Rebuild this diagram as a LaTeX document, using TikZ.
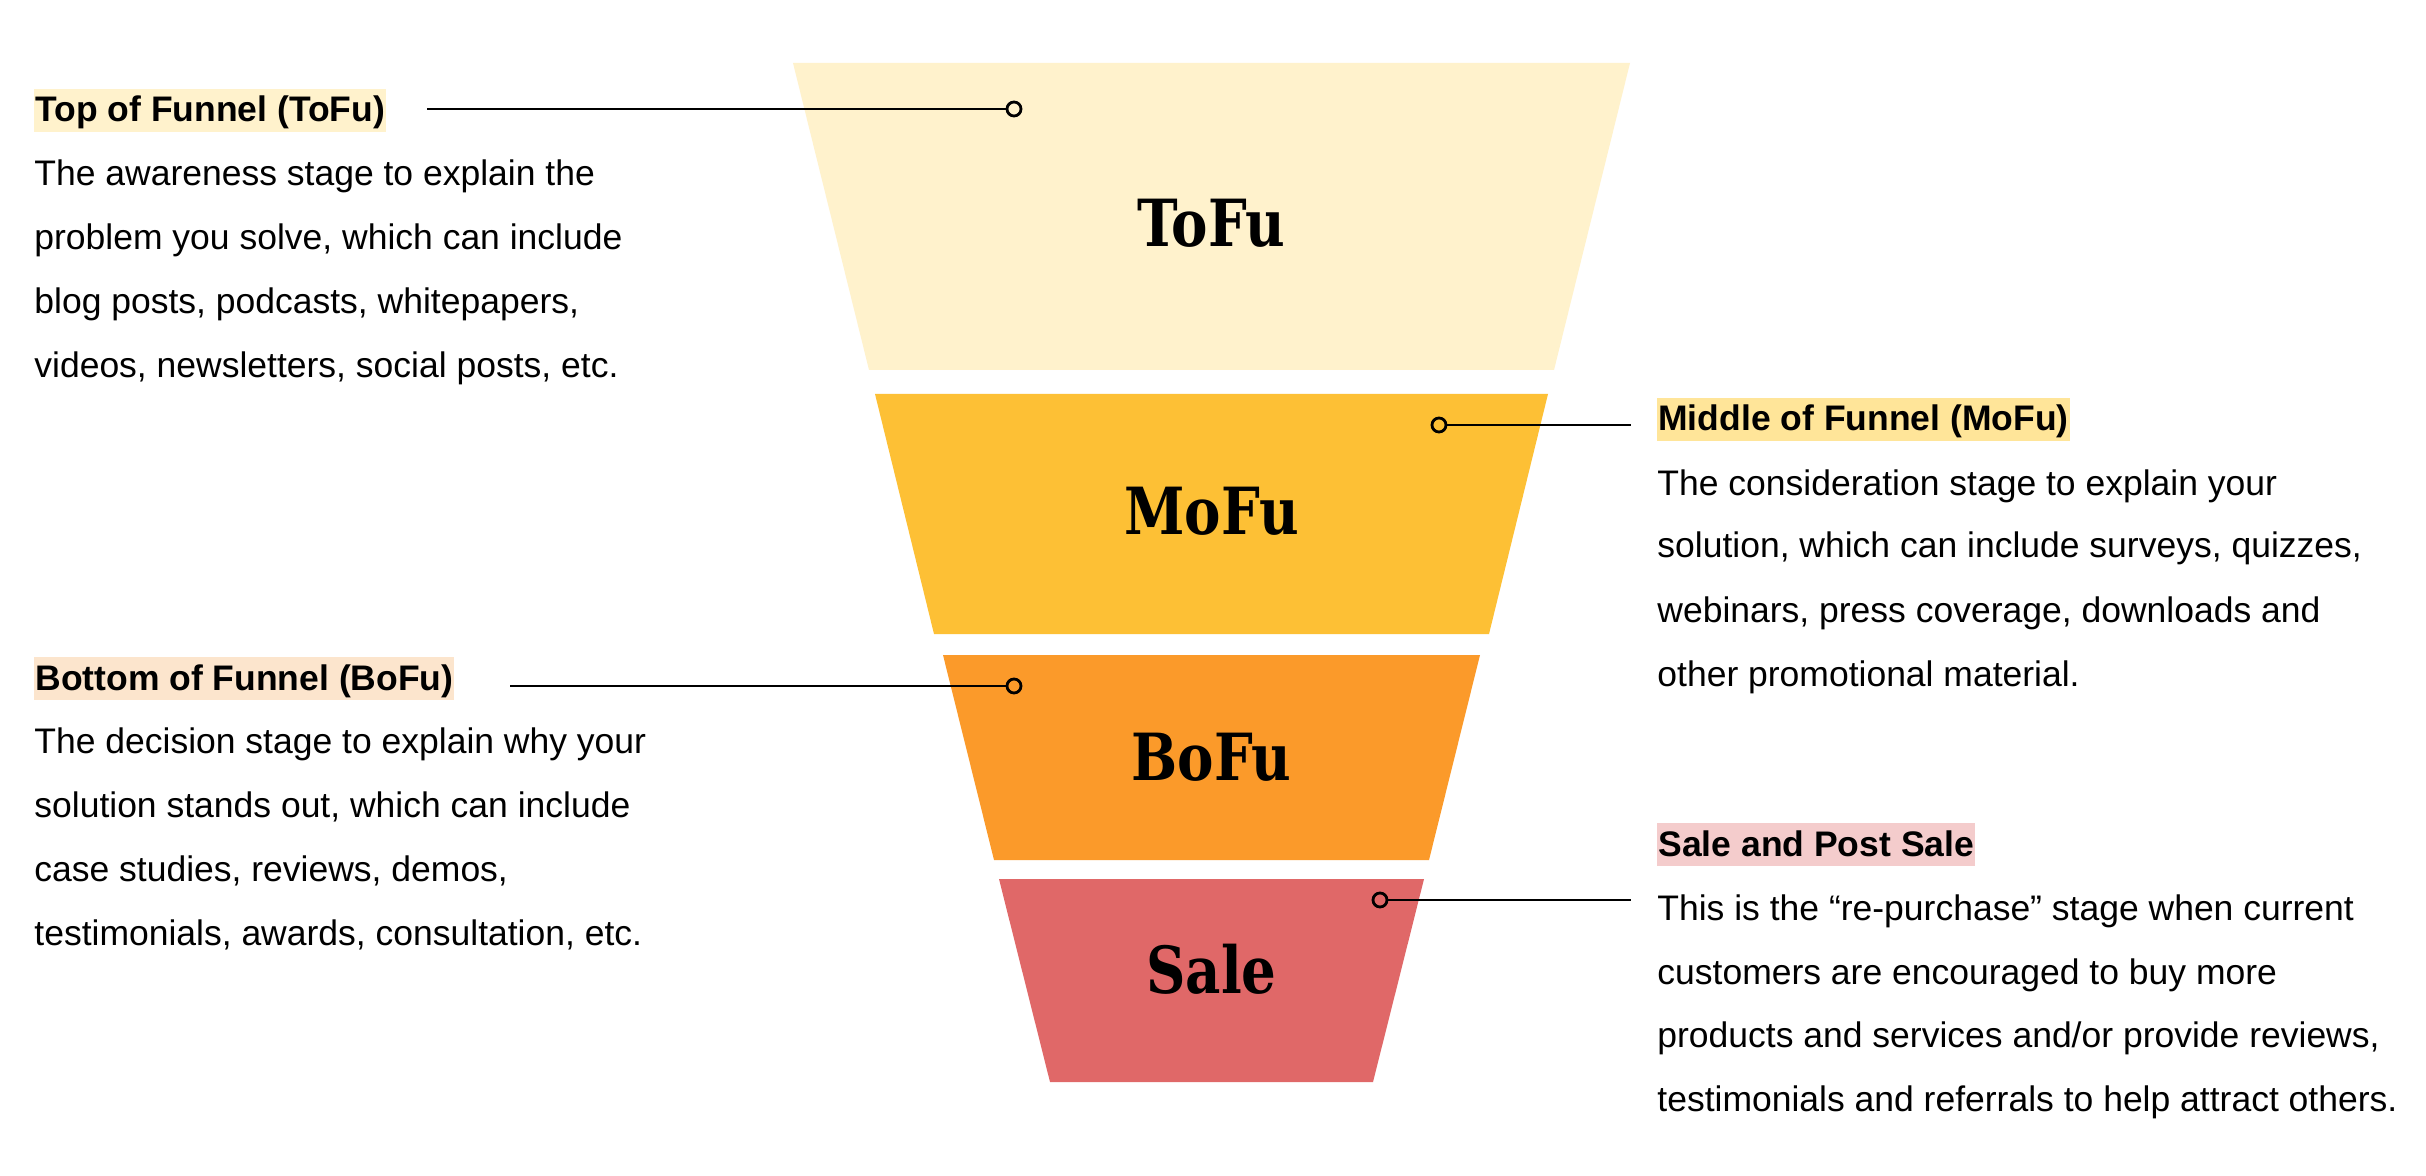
\documentclass[tikz,border=0pt]{standalone}
\usepackage{fontspec}
\setmainfont{Liberation Sans}
\newfontfamily\slabfont[FakeStretch=0.84]{DejaVu Serif}
\definecolor{tofuC}{HTML}{FFF2CC}
\definecolor{mofuC}{HTML}{FDC035}
\definecolor{bofuC}{HTML}{FB9A2A}
\definecolor{saleC}{HTML}{E06868}
\definecolor{hlTo}{HTML}{FFF2CC}
\definecolor{hlMo}{HTML}{FFE599}
\definecolor{hlBo}{HTML}{FCE5CD}
\definecolor{hlSa}{HTML}{F4CCCC}
\begin{document}
\begin{tikzpicture}[x=0.5pt,y=-0.5pt,
  stagelabel/.style={font=\slabfont\bfseries\fontsize{32.5}{38}\selectfont, anchor=base, inner sep=0pt},
  ttl/.style={font=\bfseries\fontsize{17.75}{20}\selectfont, anchor=base west, inner xsep=0.5pt, inner ysep=0pt, text height=16.5pt, text depth=5pt},
  bodyline/.style={font=\fontsize{17.75}{20}\selectfont, anchor=base west, inner sep=0pt},
  dotnode/.style={circle, draw=black, line width=1.4pt, minimum size=7pt, inner sep=0pt},
  lead/.style={draw=black, line width=1.1pt}]
\useasboundingbox (0,0) rectangle (2426,1176);
\fill[white] (0,0) rectangle (2426,1176);

% funnel sections
\fill[tofuC] (793,63) -- (1630,63) -- (1554,370) -- (869,370) -- cycle;
\fill[mofuC] (875,394) -- (1548,394) -- (1489,634) -- (934,634) -- cycle;
\fill[bofuC] (943,655) -- (1480,655) -- (1429,860) -- (994,860) -- cycle;
\fill[saleC] (999,879) -- (1424,879) -- (1373,1082) -- (1050,1082) -- cycle;

\node[stagelabel] (tofu) at (1211.5,247) {ToFu};
\node[stagelabel] (mofu) at (1211.5,535) {MoFu};
\node[stagelabel] (bofu) at (1211.5,780) {BoFu};
\node[stagelabel] (sale) at (1211.5,993) {Sale};

% ToFu text
\node[ttl, fill=hlTo] (ttoTitle) at (34,122) {Top of Funnel (ToFu)};
\node[bodyline] (to1) at (34,186) {The awareness stage to explain the};
\node[bodyline] (to2) at (34,250) {problem you solve, which can include};
\node[bodyline] (to3) at (34,314) {blog posts, podcasts, whitepapers,};
\node[bodyline] (to4) at (34,378) {videos, newsletters, social posts, etc.};

% MoFu text
\node[ttl, fill=hlMo] (tmoTitle) at (1657,431) {Middle of Funnel (MoFu)};
\node[bodyline] (mo1) at (1657,495) {The consideration stage to explain your};
\node[bodyline] (mo2) at (1657,558) {solution, which can include surveys, quizzes,};
\node[bodyline] (mo3) at (1657,622) {webinars, press coverage, downloads and};
\node[bodyline] (mo4) at (1657,686) {other promotional material.};

% BoFu text
\node[ttl, fill=hlBo] (tboTitle) at (34,690) {Bottom of Funnel (BoFu)};
\node[bodyline] (bo1) at (34,753) {The decision stage to explain why your};
\node[bodyline] (bo2) at (34,817) {solution stands out, which can include};
\node[bodyline] (bo3) at (34,881) {case studies, reviews, demos,};
\node[bodyline] (bo4) at (34,945) {testimonials, awards, consultation, etc.};

% Sale text
\node[ttl, fill=hlSa] (tsaTitle) at (1657,856) {Sale and Post Sale};
\node[bodyline] (sa1) at (1657,920) {This is the “re-purchase” stage when current};
\node[bodyline] (sa2) at (1657,984) {customers are encouraged to buy more};
\node[bodyline] (sa3) at (1657,1047) {products and services and/or provide reviews,};
\node[bodyline] (sa4) at (1657,1111) {testimonials and referrals to help attract others.};

% connectors
\node[dotnode] (dTo) at (1014,109) {};
\node[dotnode] (dMo) at (1439,425) {};
\node[dotnode] (dBo) at (1014,686) {};
\node[dotnode] (dSa) at (1380,900) {};
\coordinate (cTo) at (427,109);
\coordinate (cMo) at (1631,425);
\coordinate (cBo) at (510,686);
\coordinate (cSa) at (1631,900);
\draw[lead] (cTo) -- (dTo);
\draw[lead] (dMo) -- (cMo);
\draw[lead] (cBo) -- (dBo);
\draw[lead] (dSa) -- (cSa);
\end{tikzpicture}
\end{document}
